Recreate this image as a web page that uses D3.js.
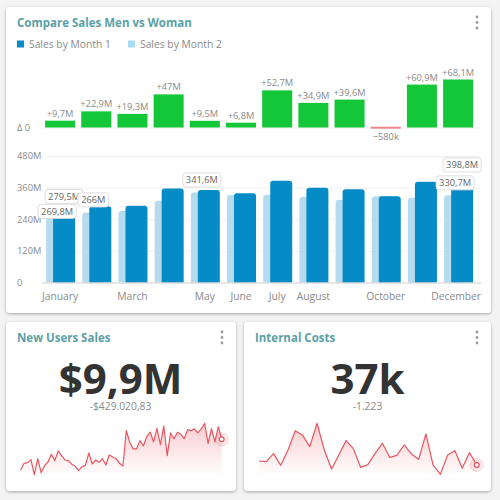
<!DOCTYPE html>
<html><head><meta charset="utf-8">
<script src="https://cdn.jsdelivr.net/npm/d3@7/dist/d3.min.js"></script>
<style>
html,body{margin:0;padding:0;background:#f3f3f3;overflow:hidden}
svg{display:block}
text{font-family:"Open Sans",sans-serif}
</style></head><body>
<svg id="c" width="500" height="500"></svg>
<script>
const months=["January","February","March","April","May","June","July","August","September","October","November","December"];
const visibleMonths=["January","March","May","June","July","August","October","December"];
const month1=[279.5,288.9,291,357,351.1,338.5,386,360,354,327,382.5,398.8];
const month2=[269.8,266,271.7,310,341.6,331.7,333.3,325.1,314.4,327.58,321.6,330.7];
const deltaLabels=["+9,7M","+22,9M","+19,3M","+47M","+9,5M","+6,8M","+52,7M","+34,9M","+39,6M","−580k","+60,9M","+68,1M"];
const yTicks=[0,120,240,360,480];
const tagged=[["January",1,"279,5M"],["January",2,"269,8M"],["February",2,"266M"],["May",2,"341,6M"],["December",1,"398,8M"],["December",2,"330,7M"]];
const usersSales=[1.39,3.24,3.42,4.26,0.09,4.53,0.65,2.59,3.61,5.74,3.98,6.66,5.37,4.16,3.98,2.96,2.41,1.2,2.31,2.68,6.11,3.05,4.16,3.52,4.53,2.78,5.55,5,4.53,3.24,2.5,12.3,9.16,7.22,7.22,9.53,8.05,10.64,11.93,9.16,12.95,8.42,13.6,5.37,11.66,9.99,11.84,11.29,10.08,12.58,12.3,12.77,11.66,12.77,14.34,8.79,12.86,9.16,13.41,9.9];
const internalCosts=[51.8,49.3,78.9,35.8,92.5,164,146.7,104.8,191.1,92.5,22.2,74,127,97.4,28.4,38.2,80.1,117.1,65.3,72.7,111,77.7,58,151.7,35.8,2.5,74,90,24.7,82.6,37];

const DARK="#058cc6",LIGHT="#b6dbee",GREEN="#14c738",RED="#f0868c",TEAL="#5b9fa5",GREY="#8a8a8a",SPARK="#ea5560";
const svg=d3.select("#c");
const defs=svg.append("defs");
const f=defs.append("filter").attr("id","sh").attr("x","-5%").attr("y","-5%").attr("width","110%").attr("height","110%");
f.append("feDropShadow").attr("dx",0).attr("dy",1).attr("stdDeviation",1.4).attr("flood-color","#000").attr("flood-opacity",.32);
const g=defs.append("linearGradient").attr("id","fade").attr("x1",0).attr("x2",0).attr("y1",0).attr("y2",1);
g.append("stop").attr("offset",0).attr("stop-color",SPARK).attr("stop-opacity",.3);
g.append("stop").attr("offset",1).attr("stop-color",SPARK).attr("stop-opacity",.01);

function card(x,y,w,h,title){
  svg.append("rect").attr("x",x).attr("y",y).attr("width",w).attr("height",h).attr("rx",4).attr("fill","#fff").attr("filter","url(#sh)");
  svg.append("text").attr("x",x+11).attr("y",y+19.5).attr("font-size",11.5).attr("font-weight",700).attr("fill",TEAL).text(title);
  const dx=x+w-14;
  [10,15.5,21].forEach(d=>svg.append("circle").attr("cx",dx).attr("cy",y+d).attr("r",1.4).attr("fill","#9a9a9a"));
}
card(6,7,485,306,"Compare Sales Men vs Woman");
card(6,322,230,169,"New Users Sales");
card(244,322,247,169,"Internal Costs");

// legend
[[17,DARK,"Sales by Month 1"],[128,"#a9dcf3","Sales by Month 2"]].forEach(([x,c,t])=>{
  svg.append("rect").attr("x",x).attr("y",40.5).attr("width",7).attr("height",7).attr("fill",c);
  svg.append("text").attr("x",x+12).attr("y",47.5).attr("font-size",10.3).attr("fill",GREY).text(t);
});

const x=d3.scaleBand().domain(months).range([42,476.2]).paddingInner(.17).paddingOuter(.085);
const yD=d3.scaleLinear().domain([0,68.1]).range([127.5,79.5]);
const y=d3.scaleLinear().domain([0,480]).range([282.5,156]);
const BW=22;

function leftAxis(scale,vals,fmt){
  const a=svg.append("g").attr("transform","translate(42,0)").call(d3.axisLeft(scale).tickValues(vals).tickFormat(fmt).tickSize(0));
  a.select(".domain").remove();
  a.selectAll("text").attr("x",-25).attr("text-anchor","start").attr("font-size",9.3).attr("fill",GREY).style("font-family",'"Open Sans",sans-serif');
}
// delta panel
svg.append("line").attr("x1",42).attr("x2",481).attr("y1",yD(0)+.5).attr("y2",yD(0)+.5).attr("stroke","#efefef");
leftAxis(yD,[0],()=>"Δ 0");
const deltas=months.map((m,i)=>({m,v:month1[i]-month2[i],l:deltaLabels[i]}));
svg.append("g").selectAll("rect").data(deltas).join("rect")
  .attr("x",d=>x(d.m)).attr("width",x.bandwidth())
  .attr("y",d=>d.v>=0?yD(d.v):yD(0)-.8)
  .attr("height",d=>d.v>=0?yD(0)-yD(d.v):2)
  .attr("fill",d=>d.v>=0?GREEN:RED);
svg.append("g").selectAll("text").data(deltas).join("text")
  .attr("x",d=>x(d.m)+x.bandwidth()/2)
  .attr("y",d=>d.v>=0?yD(d.v)-4:yD(0)+12.5)
  .attr("text-anchor","middle").attr("font-size",9.3).attr("fill",GREY).text(d=>d.l);

// main panel
const grid=svg.append("g");
grid.selectAll("line").data(yTicks.filter(v=>v>0)).join("line")
  .attr("x1",47).attr("x2",481).attr("y1",d=>y(d)+.5).attr("y2",d=>y(d)+.5).attr("stroke","#f1f1f1");
leftAxis(y,yTicks,d=>d===0?"0":d+"M");
const px1=m=>x(m)+x.bandwidth()-BW, px2=m=>x(m)+x.bandwidth()-BW-7;
function barPath(xp,v){
  const t=y(v),b=y(0),r=3;
  return `M${xp},${b}V${t+r}Q${xp},${t} ${xp+r},${t}H${xp+BW-r}Q${xp+BW},${t} ${xp+BW},${t+r}V${b}Z`;
}
svg.append("g").selectAll("path").data(months).join("path")
  .attr("d",(m,i)=>barPath(px2(m),month2[i])).attr("fill",LIGHT);
svg.append("g").selectAll("path").data(months).join("path")
  .attr("d",(m,i)=>barPath(px1(m),month1[i])).attr("fill",DARK);
svg.append("line").attr("x1",42).attr("x2",481).attr("y1",y(0)+.5).attr("y2",y(0)+.5).attr("stroke","#cfcfcf");
const xa=svg.append("g").attr("transform",`translate(0,${y(0)})`)
  .call(d3.axisBottom(x).tickValues(visibleMonths).tickSize(0));
xa.select(".domain").remove();
xa.selectAll("text").attr("y",10).attr("dy",".71em").attr("font-size",10.3).attr("fill",GREY).style("font-family",'"Open Sans",sans-serif')
  .attr("dx",d=>d==="December"?-2:0);

// value tags
const placed={};
tagged.forEach(([m,s,t])=>{
  const i=months.indexOf(m);
  const cx=(s===1?px1(m):px2(m))+BW/2;
  const v=s===1?month1[i]:month2[i];
  let top=y(v)-19.5;
  const w=t.length>4?38:31,h=14;
  if(placed[m]!==undefined&&top<placed[m]+h) top=placed[m]+h+1;
  placed[m]=top;
  const tg=svg.append("g");
  tg.append("rect").attr("x",cx-w/2).attr("y",top).attr("width",w).attr("height",h).attr("rx",3).attr("fill","#fff").attr("stroke","#dedede");
  tg.append("text").attr("x",cx).attr("y",top+10.3).attr("text-anchor","middle").attr("font-size",9.3).attr("fill","#666").text(t);
});

// KPI cards
function kpi(big,sub,cx,bigSize,data,x0,x1){
  svg.append("text").attr("x",cx).attr("y",394).attr("text-anchor","middle").attr("font-size",bigSize).attr("font-weight",700).attr("fill","#333").text(big);
  svg.append("text").attr("x",cx).attr("y",410).attr("text-anchor","middle").attr("font-size",10.3).attr("fill",GREY).text(sub);
  const sx=d3.scaleLinear().domain([0,data.length-1]).range([x0,x1]);
  const sy=d3.scaleLinear().domain([0,d3.max(data)]).range([475,423.3]);
  svg.append("path").datum(data).attr("fill","url(#fade)")
    .attr("d",d3.area().x((d,i)=>sx(i)).y0(sy(0)).y1(d=>sy(d)));
  svg.append("path").datum(data).attr("fill","none").attr("stroke",SPARK).attr("stroke-width",1.2).attr("stroke-linejoin","round")
    .attr("d",d3.line().x((d,i)=>sx(i)).y(d=>sy(d)));
  const lx=sx(data.length-1),ly=sy(data[data.length-1]);
  svg.append("circle").attr("cx",lx).attr("cy",ly).attr("r",6.5).attr("fill",SPARK).attr("fill-opacity",.12).attr("stroke",SPARK).attr("stroke-opacity",.2);
  svg.append("circle").attr("cx",lx).attr("cy",ly).attr("r",2.4).attr("fill","#fff").attr("stroke",SPARK).attr("stroke-width",1.2);
}
kpi("$9,9M","-$429.020,83",120.5,42,usersSales,20.7,221.7);
kpi("37k","-1.223",367.5,42,internalCosts,259,476.7);
</script>
</body></html>
